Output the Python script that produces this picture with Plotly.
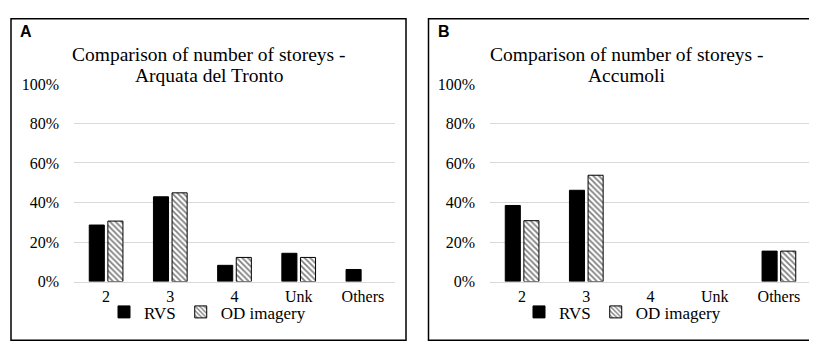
import plotly.graph_objects as go

categories = ["2", "3", "4", "Unk", "Others"]
arquata_rvs = [28.6, 42.9, 8.2, 14.3, 6.1]
arquata_od = [30.6, 44.9, 12.2, 12.2, 0.0]
accumoli_rvs = [38.5, 46.2, 0.0, 0.0, 15.4]
accumoli_od = [30.8, 53.8, 0.0, 0.0, 15.4]
y_ticks = [0, 20, 40, 60, 80, 100]
y_tick_labels = ["0%", "20%", "40%", "60%", "80%", "100%"]
title_lines = [["Comparison of number of storeys -", "Arquata del Tronto"],
               ["Comparison of number of storeys -", "Accumoli"]]
panel_letters = ["A", "B"]

W, H = 817, 345
FONT = "Liberation Serif"

fig = go.Figure()

def px_x(v):
    return v / W

def px_y(v):
    return 1 - v / H

panels = [
    dict(xa="x", ya="y", leg="legend", rvs=arquata_rvs, od=arquata_od),
    dict(xa="x2", ya="y2", leg="legend2", rvs=accumoli_rvs, od=accumoli_od),
]

def outline_widths(vals):
    return [1 if v > 0 else 0 for v in vals]

for p in panels:
    fig.add_trace(go.Bar(
        x=categories, y=p["rvs"], name="RVS", xaxis=p["xa"], yaxis=p["ya"],
        legend=p["leg"],
        marker=dict(color="black",
                    line=dict(color="black", width=outline_widths(p["rvs"]))),
    ))
    fig.add_trace(go.Bar(
        x=categories, y=p["od"], name="OD imagery", xaxis=p["xa"], yaxis=p["ya"],
        legend=p["leg"],
        marker=dict(color="white",
                    line=dict(color="black", width=outline_widths(p["od"])),
                    pattern=dict(shape="\\", fgcolor="black", bgcolor="white",
                                 size=4, solidity=0.45)),
    ))

y0, y100 = 279.3, 71.5
ydom = [px_y(y0), px_y(y100)]

axis_common_y = dict(
    range=[0, 100], tickmode="array", tickvals=y_ticks, ticktext=y_tick_labels,
    showgrid=True, gridcolor="#d9d9d9", gridwidth=1, zeroline=False,
    showline=False, ticks="", tickfont=dict(family=FONT, size=16, color="black"),
    ticklabelstandoff=14, fixedrange=True,
)
axis_common_x = dict(
    showline=True, linecolor="#d9d9d9", linewidth=1, ticks="",
    tickfont=dict(family=FONT, size=16, color="black"), showgrid=False,
    fixedrange=True,
)

legend_common = dict(orientation="h", yanchor="middle", xanchor="left",
                     font=dict(family=FONT, size=17, color="black"),
                     bgcolor="rgba(0,0,0,0)", itemwidth=30, tracegroupgap=0)

fig.update_layout(
    width=W, height=H, margin=dict(l=0, r=0, t=0, b=0),
    paper_bgcolor="white", plot_bgcolor="white",
    font=dict(family=FONT, color="black"),
    barmode="group", bargap=0.42, bargroupgap=0.19,
    xaxis=dict(domain=[px_x(66), px_x(387)], anchor="y", **axis_common_x),
    yaxis=dict(domain=ydom, anchor="x", **axis_common_y),
    xaxis2=dict(domain=[px_x(482), px_x(803)], anchor="y2", **axis_common_x),
    yaxis2=dict(domain=ydom, anchor="x2", **axis_common_y),
    legend=dict(x=px_x(96), y=px_y(311.7), **legend_common),
    legend2=dict(x=px_x(511), y=px_y(311.7), **legend_common),
    showlegend=True,
)

for cx, lines in zip([201, 618.5], title_lines):
    for ly, line in zip([40, 63], lines):
        fig.add_annotation(x=px_x(cx), y=px_y(ly), xref="paper", yref="paper",
                           text=line, showarrow=False, xanchor="center",
                           yanchor="middle",
                           font=dict(family=FONT, size=19.5, color="black"))

for lx, letter in zip([10, 428], panel_letters):
    fig.add_annotation(x=px_x(lx), y=px_y(16), xref="paper", yref="paper",
                       text="<b>" + letter + "</b>", showarrow=False,
                       xanchor="left", yanchor="middle",
                       font=dict(family="Liberation Sans", size=16, color="black"))

for x0, x1 in [(3, 398), (420.5, 813.5)]:
    fig.add_shape(type="rect", xref="paper", yref="paper",
                  x0=px_x(x0), x1=px_x(x1), y0=px_y(341), y1=px_y(3),
                  line=dict(color="black", width=1.5), fillcolor="rgba(0,0,0,0)")

fig.write_html("out.html")
